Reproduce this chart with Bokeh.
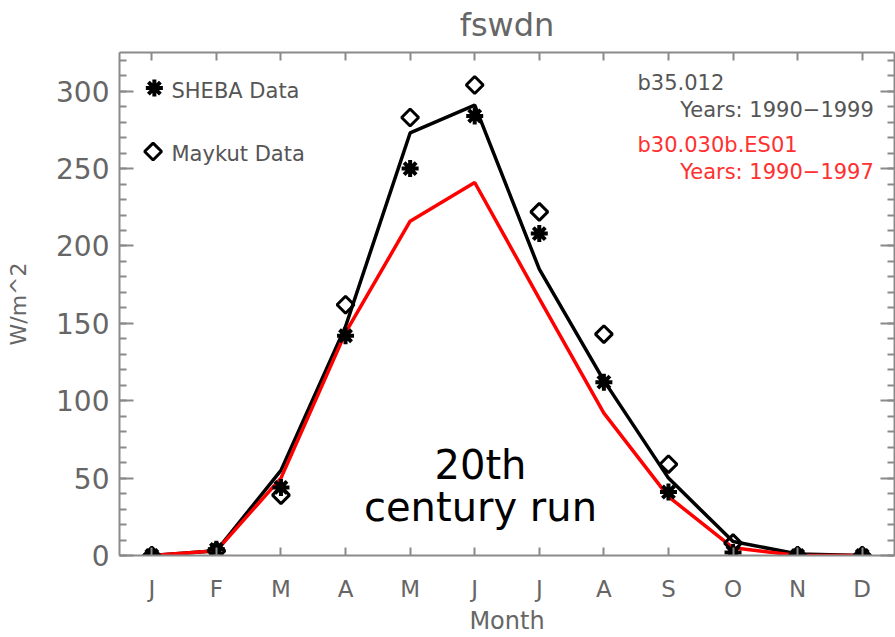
from bokeh.plotting import figure
from bokeh.models import LinearAxis, FixedTicker, Range1d, Label
from bokeh.embed import file_html
from bokeh.resources import INLINE

# Monthly mean downwelling shortwave flux (W/m^2)
months = ["J", "F", "M", "A", "M", "J", "J", "A", "S", "O", "N", "D"]
month_num = list(range(1, 13))
sheba = [0, 4, 44, 142, 250, 284, 208, 112, 41, 2, 0, 0]
maykut = [0, 3, 39, 162, 283, 304, 222, 143, 59, 8, 0, 0]
b35_012 = [0, 3, 55, 148, 273, 291, 185, 113, 50, 9, 1, 0]
b30_030b = [0, 3, 50, 144, 216, 241, 166, 92, 38, 5, 0, 0]
y_ticks = [0, 50, 100, 150, 200, 250, 300]
y_minor = list(range(0, 330, 10))

AX = "#8a8a8a"
TXT = "#666666"
DARK = "#555555"
FONT = "DejaVu Sans"

# frame edges in page pixels (used to place free-standing labels)
FL, FB = 119, 556

p = figure(width=895, height=637, output_backend="svg", toolbar_location=None,
           x_range=Range1d(0.5, 12.5), y_range=Range1d(0, 325),
           min_border_left=FL, min_border_right=1, min_border_top=52,
           min_border_bottom=637 - FB, x_axis_location=None, y_axis_location=None)
p.background_fill_color = "white"
p.border_fill_color = "white"
p.outline_line_color = None
p.grid.visible = False

def style_axis(ax):
    ax.axis_line_color = AX
    ax.axis_line_width = 2
    ax.major_tick_line_color = AX
    ax.minor_tick_line_color = AX
    ax.major_tick_line_width = 2
    ax.minor_tick_line_width = 2
    ax.major_tick_out = 0
    ax.minor_tick_out = 0
    ax.major_label_text_color = TXT
    ax.major_label_text_font = FONT
    ax.axis_label_text_font = FONT
    ax.axis_label_text_font_style = "normal"
    ax.axis_label_text_color = TXT

def blank_labels(ax, ticks):
    ax.major_label_overrides = {t: "" for t in ticks}
    ax.major_label_standoff = 0
    ax.major_label_text_font_size = "1px"

bottom = LinearAxis(ticker=FixedTicker(ticks=month_num),
                    major_label_overrides={i + 1: m for i, m in enumerate(months)})
style_axis(bottom)
bottom.major_tick_in = 8
bottom.minor_tick_in = 0
bottom.major_label_text_font_size = "23px"
bottom.major_label_standoff = 20
bottom.axis_label = "Month"
bottom.axis_label_text_font_size = "24px"
bottom.axis_label_standoff = 2
p.add_layout(bottom, "below")

# top edge of the box, carrying the variable name
top = LinearAxis(ticker=FixedTicker(ticks=month_num))
style_axis(top)
blank_labels(top, month_num)
top.major_tick_in = 8
top.minor_tick_in = 0
top.axis_label = "fswdn"
top.axis_label_text_font_size = "32px"
top.axis_label_standoff = 9
p.add_layout(top, "above")

left = LinearAxis(ticker=FixedTicker(ticks=y_ticks, minor_ticks=y_minor))
style_axis(left)
left.major_tick_in = 14
left.minor_tick_in = 7
left.major_label_text_font_size = "28px"
left.major_label_standoff = 10
left.axis_label = "W/m^2"
left.axis_label_text_font_size = "22px"
left.axis_label_standoff = 22
p.add_layout(left, "left")

right = LinearAxis(ticker=FixedTicker(ticks=y_ticks, minor_ticks=y_minor))
style_axis(right)
blank_labels(right, y_ticks)
right.major_tick_in = 14
right.minor_tick_in = 7
p.add_layout(right, "right")

# model curves
p.line(month_num, b35_012, line_color="black", line_width=3.5)
p.line(month_num, b30_030b, line_color="red", line_width=3.5)

# observations
DIAMOND = dict(marker="square", angle=0.785398, size=12, fill_alpha=0,
               line_color="black", line_width=3)
ASTER = dict(marker="asterisk", size=17, line_color="black", line_width=4)
p.scatter(month_num, maykut, **DIAMOND)
p.scatter(month_num, sheba, **ASTER)

# legend symbols
p.scatter([1.04], [302], **ASTER)
p.scatter([1.02], [261], **DIAMOND)

def page_label(x, y, text, size, color, align="left", baseline="middle"):
    """Place a label at page pixel (x, y) measured from the top-left corner."""
    p.add_layout(Label(x=x - FL, y=FB - y, x_units="screen", y_units="screen",
                       text=text, text_font=FONT, text_font_size=size,
                       text_color=color, text_align=align, text_baseline=baseline))

page_label(171, 91, "SHEBA Data", "21px", DARK)
page_label(171, 154, "Maykut Data", "21px", DARK)

page_label(637, 83, "b35.012", "21px", DARK)
page_label(880, 110, "Years:  1990\u22121999", "21px", DARK, align="right")
page_label(637, 145, "b30.030b.ES01", "21px", "#ff3030")
page_label(880, 172, "Years:  1990\u22121997", "21px", "#ff3030", align="right")

page_label(480, 465, "20th", "40px", "black", align="center", baseline="alphabetic")
page_label(480, 507, "century run", "40px", "black", align="center", baseline="alphabetic")

open("out.html", "w").write(file_html(p, INLINE))
